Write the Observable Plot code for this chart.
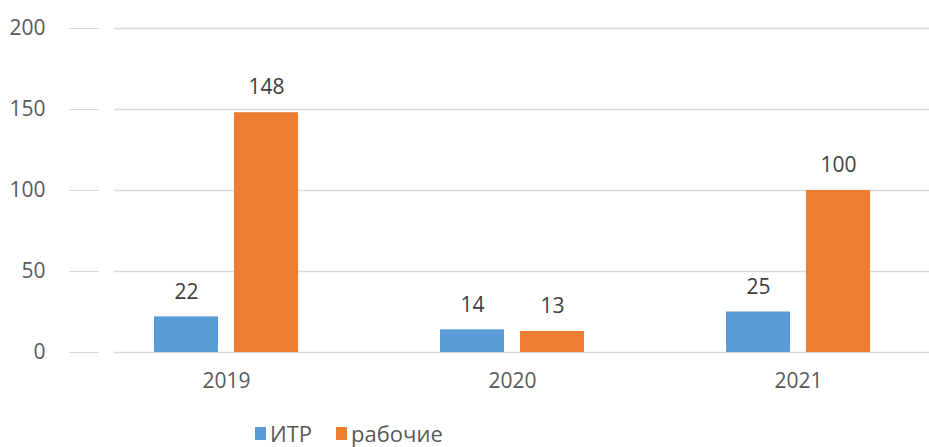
<!DOCTYPE html>
<html>
<head>
<meta charset="utf-8">
<script src="https://cdn.jsdelivr.net/npm/d3@7"></script>
<script src="https://cdn.jsdelivr.net/npm/@observablehq/plot@0.6"></script>
<style>
  html, body { margin: 0; background: #fff; font-family: "Open Sans", sans-serif; overflow: hidden; }
  #chart svg { display: block; overflow: visible; max-width: none; }
  #legend { display: flex; align-items: center; padding-left: 255px; font-size: 22px; color: #595959; line-height: 27px; height: 27px; }
  #legend .sw { display: inline-block; width: 11px; height: 13px; margin-right: 4px; }
  #legend .item { display: flex; align-items: center; margin-right: 24px; }
</style>
</head>
<body>
<div id="chart"></div>
<div id="legend"></div>
<script>
const years = ["2019", "2020", "2021"];
const seriesNames = ["ИТР", "рабочие"];
const itr = [22, 14, 25];
const workers = [148, 13, 100];
const yTicks = [0, 50, 100, 150, 200];
const colors = ["#5b9bd5", "#ed7d31"];

const dataItr = years.map((y, i) => ({year: y, series: seriesNames[0], value: itr[i]}));
const dataWorkers = years.map((y, i) => ({year: y, series: seriesNames[1], value: workers[i]}));

const chart = Plot.plot({
  width: 929,
  height: 420,
  marginLeft: 81,
  marginRight: 0,
  marginTop: 28,
  marginBottom: 68,
  style: {fontFamily: "Open Sans, sans-serif", fontSize: "21px", color: "#595959", background: "#fff"},
  x: {domain: years, range: [81, 942], paddingInner: 0.497, paddingOuter: 0.251, label: null},
  y: {domain: [0, 200], label: null},
  marks: [
    Plot.ruleY(yTicks, {stroke: "#d9d9d9", strokeWidth: 1.5, insetLeft: 33}),
    Plot.axisY({ticks: yTicks, tickSize: 30, dx: 18, tickPadding: 24, stroke: "#d9d9d9", fill: "#595959", label: null, fontSize: 21}),
    Plot.axisX({tickSize: 0, tickPadding: 21, fill: "#595959", label: null, fontSize: 21}),
    Plot.barY(dataItr, {x: "year", y: "value", fill: colors[0], insetRight: 80}),
    Plot.barY(dataWorkers, {x: "year", y: "value", fill: colors[1], insetLeft: 80}),
    Plot.text(dataItr, {x: "year", y: "value", text: d => String(d.value), dx: -40, dy: -25, fill: "#404040", fontSize: 21}),
    Plot.text(dataWorkers, {x: "year", y: "value", text: d => String(d.value), dx: 40, dy: -25, fill: "#404040", fontSize: 21})
  ]
});
document.getElementById("chart").appendChild(chart);

const legend = document.getElementById("legend");
seriesNames.forEach((name, i) => {
  const item = document.createElement("span");
  item.className = "item";
  item.innerHTML = `<span class="sw" style="background:${colors[i]}"></span><span>${name}</span>`;
  legend.appendChild(item);
});
</script>
</body>
</html>
